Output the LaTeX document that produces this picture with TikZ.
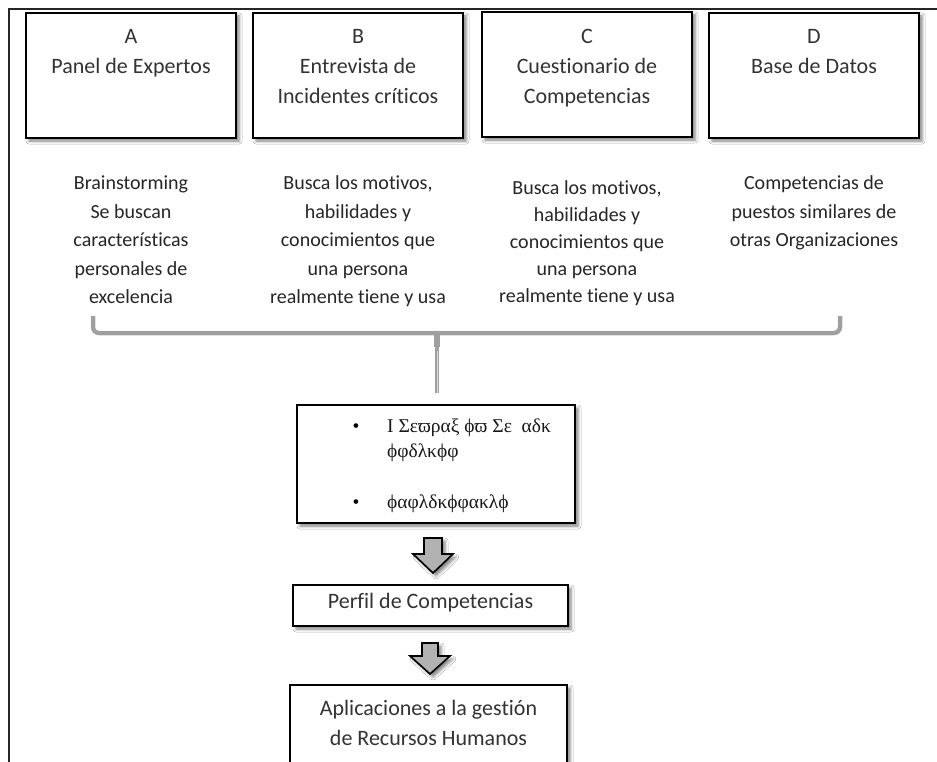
\documentclass[tikz,border=0pt]{standalone}
\usepackage{fontspec}
\setmainfont{Carlito}[Ligatures=NoCommon]
\newfontfamily\grfont{Liberation Serif}
\usetikzlibrary{calc,shadows.blur}
\begin{document}
\begin{tikzpicture}[x=1pt,y=-1pt,
  softshadow/.style={blur shadow={shadow xshift=3pt, shadow yshift=-3pt,
      shadow opacity=50, shadow blur radius=3pt}},
  frameline/.style={draw=black!85, line width=2pt},
  srcbox/.style={draw=black, line width=2pt, fill=white, inner sep=0pt,
      minimum width=210pt, minimum height=125pt, softshadow},
  flowbox/.style={draw=black, line width=2pt, fill=white, inner sep=0pt, softshadow},
  boxtext/.style={anchor=north, align=center, inner sep=0pt, text=black!80,
      font=\fontsize{22}{30}\selectfont},
  coltext/.style={anchor=north, align=center, inner sep=0pt, text=black!85,
      font=\fontsize{20}{28.5}\selectfont},
  grtext/.style={anchor=north west, align=left, inner sep=0pt, text=black!90,
      font=\grfont\fontsize{19.5}{25}\selectfont},
  bullet/.style={anchor=base, inner sep=0pt, text=black, font=\grfont\fontsize{19.5}{25}\selectfont},
  blockarr/.style={draw=black, line width=1.6pt, fill=gray!60, line join=miter, softshadow},
  braceshadow/.style={draw=gray!40, line width=4.5pt, rounded corners=6pt},
  braceline/.style={draw=gray!75, line width=4pt, rounded corners=6pt},
  bracelight/.style={draw=gray!30, line width=1pt},
]
\useasboundingbox (0,0) rectangle (937,762);
\clip (0,0) rectangle (937,762);
\fill[white] (0,0) rectangle (937,762);

% page frame
\draw[frameline] (9,770) -- (9,9) -- (945,9);

% source boxes
\node[srcbox] (A) at (131,75.5) {};
\node[srcbox] (B) at (358,75.5) {};
\node[srcbox] (C) at (587,74.5) {};
\node[srcbox] (D) at (814,75.5) {};

\node[boxtext] (Atxt) at (131,22) {\strut A\\Panel de Expertos};
\node[boxtext] (Btxt) at (358,22) {\strut B\\Entrevista de\\Incidentes críticos};
\node[boxtext] (Ctxt) at (587,22) {\strut C\\Cuestionario de\\Competencias};
\node[boxtext] (Dtxt) at (814,22) {\strut D\\Base de Datos};

% descriptions under each source
\node[coltext] (Adesc) at (131,169.5) {\strut Brainstorming\\Se buscan\\características\\personales de\\excelencia};
\node[coltext] (Bdesc) at (358,169.5) {\strut Busca los motivos,\\habilidades y\\conocimientos que\\una persona\\realmente tiene y usa};
\node[coltext, font=\fontsize{20}{27}\selectfont] (Cdesc) at (587,175.5) {\strut Busca los motivos,\\habilidades y\\conocimientos que\\una persona\\realmente tiene y usa};
\node[coltext] (Ddesc) at (814,169.5) {\strut Competencias de\\puestos similares de\\otras Organizaciones};

% synthesis box
\node[flowbox, minimum width=278pt, minimum height=118pt] (syn) at (436,464) {};
\node[bullet] (b1) at (356,432) {•};
\node[bullet] (b2) at (356,508) {•};
\node[grtext] (g1) at (387,414.5) {\strut Ι Σεϖραξ ϕϖ Σε\ \ αδκ\\ϕφδλκϕφ};
\node[grtext, anchor=base west] (g2) at (387,508) {ϕαφλδκϕφακλϕ};

% profile and applications
\node[flowbox, minimum width=275pt, minimum height=41pt] (per) at (430.5,605.5) {};
\node[anchor=base, inner sep=0pt, text=black!80, font=\fontsize{22}{30}\selectfont]
  (pertxt) at ($(per.center)+(0,2.5)$) {Perfil de Competencias};
\node[flowbox, minimum width=277pt, minimum height=90pt] (app) at (428.5,730) {};
\node[boxtext] (apptxt) at (428.5,694) {\strut Aplicaciones a la gestión\\de Recursos Humanos};

% brace gathering the four sources
\coordinate (brL) at (93,316);
\coordinate (brR) at (840,316);
\coordinate (brM) at (437,333);
\coordinate (brE) at ($(syn.north)+(1,-11)$);
\begin{scope}[shift={(1.5,2.5)}]
  \draw[braceshadow] (brL) |- (brM) -| (brR);
  \draw[braceshadow] (brM) -- (brE);
\end{scope}
\draw[braceline] (brL) |- (brM) -| (brR);
\draw[draw=gray!75, line width=6pt] ($(brM)+(0,2)$) -- ($(brM)+(0,14)$);
\draw[braceline] (brM) -- (brE);
\draw[bracelight] ($(brM)+(0,18)$) -- (brE);

% block arrows
\coordinate (a1) at ($(syn.south)+(-3,14)$);
\draw[blockarr] (a1) +(-9,0) -- +(9,0) -- +(9,16) -- +(20,16) -- +(0,35)
  -- +(-20,16) -- +(-9,16) -- cycle;
\coordinate (a2) at ($(per.south)+(-0.5,16)$);
\draw[blockarr] (a2) +(-8,0) -- +(8,0) -- +(8,13) -- +(20,13) -- +(0,31)
  -- +(-20,13) -- +(-8,13) -- cycle;
\end{tikzpicture}
\end{document}
